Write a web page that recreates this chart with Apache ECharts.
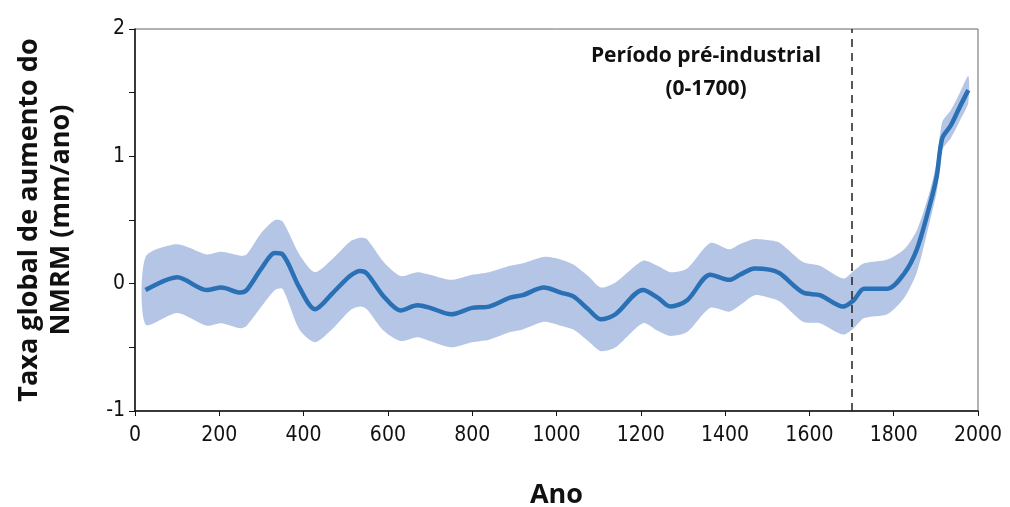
<!DOCTYPE html>
<html>
<head>
    <meta charset="UTF-8">
    <title>Taxa global de aumento do NMRM</title>
    <script src="https://cdn.jsdelivr.net/npm/echarts@6/dist/echarts.min.js"></script>
</head>
<body style="margin:0;">
    <div id="chartBox" style="width:1010px;height:507px;"></div>
    <script>
        // anos e valores
        var years = [25, 100, 170, 205, 250, 265, 300, 332, 350, 390, 427, 470, 510, 534, 550, 590, 630, 670, 700, 750,
            800, 840, 890, 920, 970, 1010, 1040, 1075, 1105, 1140, 1205, 1240, 1270, 1310, 1365, 1410, 1435, 1470,
            1505, 1530, 1585, 1625, 1680, 1705, 1730, 1785, 1825, 1855, 1885, 1902, 1915, 1935, 1957, 1977];
        var rate = [-0.05, 0.05, -0.05, -0.03, -0.07, -0.05, 0.12, 0.24, 0.23, -0.03, -0.20, -0.07, 0.06, 0.10, 0.08,
            -0.10, -0.21, -0.17, -0.19, -0.24, -0.19, -0.18, -0.11, -0.09, -0.03, -0.07, -0.10, -0.20, -0.28, -0.24,
            -0.05, -0.11, -0.18, -0.13, 0.07, 0.03, 0.07, 0.12, 0.11, 0.08, -0.07, -0.09, -0.18, -0.13, -0.04, -0.04,
            0.08, 0.27, 0.61, 0.84, 1.14, 1.24, 1.39, 1.52];
        var upper = [0.21, 0.31, 0.23, 0.25, 0.22, 0.23, 0.40, 0.50, 0.49, 0.23, 0.09, 0.20, 0.33, 0.36, 0.35,
            0.17, 0.06, 0.09, 0.07, 0.03, 0.07, 0.09, 0.14, 0.16, 0.21, 0.19, 0.15, 0.06, -0.03, 0.01,
            0.18, 0.14, 0.09, 0.12, 0.32, 0.27, 0.31, 0.35, 0.34, 0.32, 0.17, 0.14, 0.04, 0.10, 0.16, 0.19,
            0.27, 0.42, 0.72, 0.96, 1.27, 1.36, 1.50, 1.63];
        var lower = [-0.32, -0.23, -0.33, -0.31, -0.35, -0.33, -0.18, -0.05, -0.04, -0.36, -0.46, -0.35, -0.21, -0.18, -0.20,
            -0.37, -0.45, -0.42, -0.45, -0.50, -0.46, -0.44, -0.38, -0.36, -0.30, -0.33, -0.36, -0.45, -0.53, -0.50,
            -0.31, -0.37, -0.41, -0.38, -0.19, -0.22, -0.17, -0.09, -0.11, -0.14, -0.30, -0.31, -0.40, -0.35, -0.27, -0.24,
            -0.11, 0.09, 0.48, 0.72, 1.05, 1.14, 1.28, 1.42];
        var preIndustrialEnd = 1700;

        var myChart = echarts.init(document.getElementById('chartBox'));

        var lineData = [];
        for (var i = 0; i < years.length; i++) {
            lineData.push([years[i], rate[i]]);
        }

        // faixa de incerteza: um poligono (limite superior + limite inferior invertido)
        function renderBand(params, api) {
            if (params.dataIndex !== 0) return;
            var pts = [];
            for (var i = 0; i < years.length; i++) {
                pts.push(api.coord([years[i], upper[i]]));
            }
            for (var j = years.length - 1; j >= 0; j--) {
                pts.push(api.coord([years[j], lower[j]]));
            }
            return {
                type: 'polygon',
                shape: { points: pts, smooth: 0.25 },
                style: { fill: '#b4c5e6' }
            };
        }

        var labelFont = '"DejaVu Sans Condensed", "Liberation Sans Narrow", sans-serif';
        var boldFont = '"Open Sans", "Liberation Sans", sans-serif';

        var option = {
            backgroundColor: '#fff',
            animation: false,
            grid: {
                left: 135,
                right: 32,
                top: 29,
                bottom: 96,
                outerBoundsMode: 'none',
                containLabel: false,
                show: true,
                borderColor: '#666',
                borderWidth: 1
            },
            graphic: [{
                type: 'text',
                x: 706,
                y: 40,
                z: 100,
                style: {
                    text: 'Período pré-industrial\n(0-1700)',
                    align: 'center',
                    verticalAlign: 'top',
                    font: 'bold 21px ' + boldFont,
                    lineHeight: 33,
                    fill: '#111'
                }
            }],
            xAxis: {
                type: 'value',
                min: 0,
                max: 2000,
                interval: 200,
                name: 'Ano',
                nameLocation: 'middle',
                nameGap: 71,
                nameTextStyle: {
                    fontSize: 27,
                    fontWeight: 'bold',
                    fontFamily: boldFont,
                    color: '#111'
                },
                axisLine: { onZero: false, lineStyle: { color: '#111', width: 1.5 } },
                axisTick: { show: true, length: 5, lineStyle: { color: '#111' } },
                axisLabel: {
                    fontSize: 21,
                    color: '#111',
                    margin: 14,
                    fontFamily: labelFont,
                    formatter: function (v) { return String(v); }
                },
                splitLine: { show: false }
            },
            yAxis: {
                type: 'value',
                min: -1,
                max: 2,
                interval: 1,
                name: 'Taxa global de aumento do\nNMRM (mm/ano)',
                nameLocation: 'middle',
                nameRotate: 90,
                nameGap: 58,
                nameTextStyle: {
                    fontSize: 27,
                    fontWeight: 'bold',
                    fontFamily: boldFont,
                    color: '#111',
                    lineHeight: 32
                },
                axisLine: { show: true, onZero: false, lineStyle: { color: '#111', width: 1.5 } },
                axisTick: { show: true, length: 6, lineStyle: { color: '#111' } },
                minorTick: { show: true, splitNumber: 2, length: 6, lineStyle: { color: '#111' } },
                axisLabel: { fontSize: 21, color: '#111', margin: 10, fontFamily: labelFont },
                splitLine: { show: false }
            },
            series: [{
                    name: 'faixa',
                    type: 'custom',
                    renderItem: renderBand,
                    data: [[years[0], upper[0]]],
                    encode: { x: 0, y: 1 },
                    silent: true,
                    z: 1
                },
                {
                    name: 'taxa',
                    type: 'line',
                    data: lineData,
                    symbol: 'none',
                    smooth: 0.3,
                    z: 3,
                    lineStyle: { color: '#2a70b5', width: 4.5 },
                    markLine: {
                        symbol: 'none',
                        silent: true,
                        label: { show: false },
                        lineStyle: { color: '#222', type: [8, 6], width: 1.5 },
                        data: [{ xAxis: preIndustrialEnd }]
                    }
                }
            ]
        };

        myChart.setOption(option);
    </script>
</body>
</html>
